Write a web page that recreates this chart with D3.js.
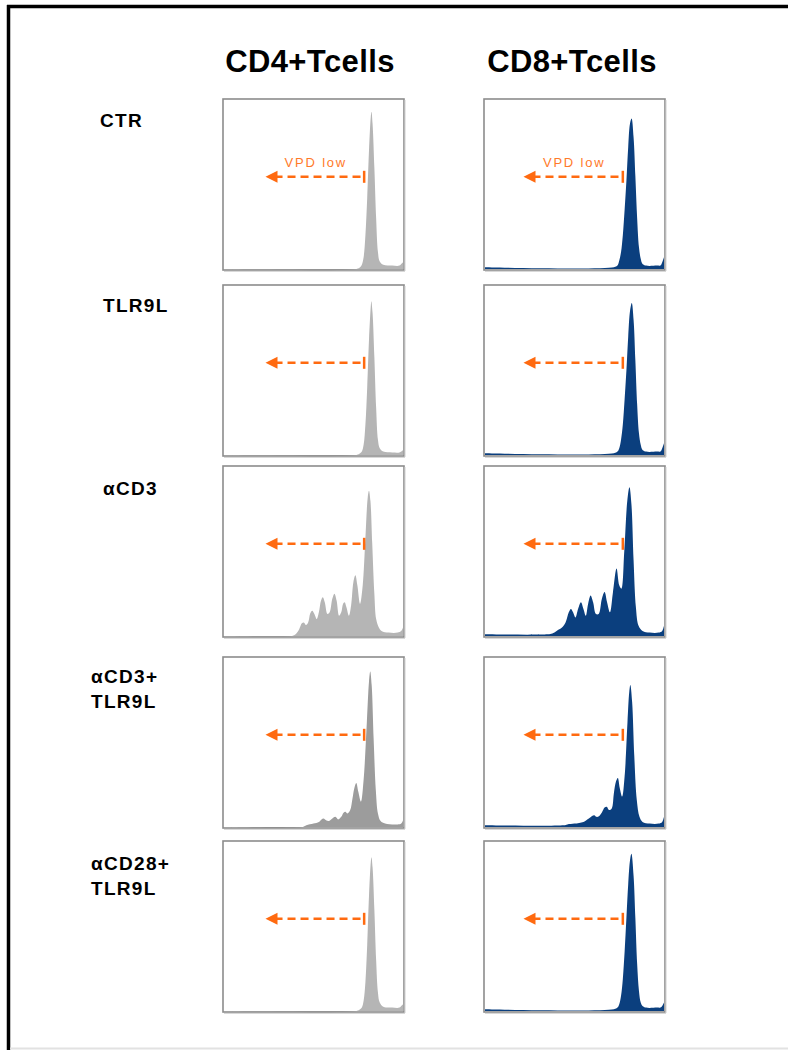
<!DOCTYPE html>
<html>
<head>
<meta charset="utf-8">
<script src="https://cdn.jsdelivr.net/npm/d3@7"></script>
<style>
  html, body { margin: 0; padding: 0; background: #ffffff; }
  svg { display: block; }
</style>
</head>
<body>
<svg id="chart" width="788" height="1050"></svg>
<script>
// ---------------- DATA ----------------
const columnTitles = ["CD4+Tcells", "CD8+Tcells"];
const rowLabels = [["CTR"], ["TLR9L"], ["\u03b1CD3"], ["\u03b1CD3+", "TLR9L"], ["\u03b1CD28+", "TLR9L"]];
const gateLabel = "VPD low";
const gateBoundary = [78.3, 77];     // VPD low gate edge (axis units, 0-100) per column
const gateArrowEnd = [23.2, 21.5];   // where the arrow points to (axis units)

// histograms: [fluorescence (0-100), relative count (0-1)]
const cd4Ctr = [[0,0],[74,0],[76,0.01],[77,0.025],[78,0.07],[79,0.2],[80,0.42],[81,0.7],[82,0.9],[82.4,0.93],[83,0.86],[84,0.6],[85,0.3],[86,0.1],[87,0.045],[89,0.025],[94,0.02],[98,0.02],[99,0.03],[100,0.04]];
const cd4Tlr9 = [[0,0],[74,0],[76,0.01],[77,0.02],[78,0.06],[79,0.18],[80,0.4],[81,0.68],[82,0.88],[82.3,0.91],[83,0.84],[84,0.58],[85,0.28],[86,0.09],[87,0.04],[89,0.02],[94,0.015],[98,0.015],[99,0.02],[100,0.03]];
const cd4Cd3 = [[0,0],[38,0],[40,0.01],[42,0.04],[43.5,0.075],[44.6,0.08],[45.8,0.065],[47,0.08],[48.2,0.135],[49.3,0.15],[50.5,0.13],[51.8,0.1],[53,0.14],[54.2,0.21],[55.2,0.23],[56.3,0.2],[57.8,0.13],[59,0.14],[60.5,0.22],[61.7,0.25],[62.9,0.21],[64.3,0.12],[65.5,0.14],[66.5,0.19],[67.4,0.2],[68.4,0.17],[69.8,0.12],[71,0.18],[72.3,0.32],[73.4,0.36],[74.5,0.3],[76,0.19],[77.5,0.3],[79,0.58],[80.3,0.82],[81,0.86],[81.8,0.8],[82.8,0.55],[84,0.25],[85,0.1],[86.5,0.05],[88,0.03],[92,0.02],[97,0.02],[99,0.03],[100,0.05]];
const cd4Cd3Tlr9 = [[0,0],[44,0],[46,0.01],[50,0.02],[53,0.03],[54.5,0.045],[55.6,0.05],[57,0.04],[58.5,0.035],[60.5,0.05],[62.2,0.06],[63.8,0.045],[65.5,0.06],[66.8,0.085],[67.8,0.09],[69,0.08],[70.5,0.1],[71.8,0.17],[72.8,0.23],[73.9,0.26],[75,0.21],[76.5,0.15],[78,0.28],[79.8,0.62],[81,0.86],[81.7,0.92],[82.5,0.84],[83.6,0.52],[84.8,0.22],[86,0.08],[87.5,0.035],[90,0.02],[97,0.015],[99,0.02],[100,0.04]];
const cd4Cd28Tlr9 = [[0,0],[74,0],[76,0.01],[77,0.02],[78,0.06],[79,0.17],[80,0.39],[81,0.68],[82,0.88],[82.4,0.91],[83,0.85],[84,0.6],[85,0.3],[86,0.11],[87,0.05],[89,0.025],[94,0.02],[98,0.02],[99,0.03],[100,0.04]];

const cd8Ctr = [[0,0.01],[72,0.01],[74,0.02],[75,0.05],[76,0.1],[77,0.2],[78,0.35],[79,0.52],[80,0.72],[81,0.86],[81.9,0.89],[83,0.78],[84,0.55],[85,0.3],[86,0.13],[87,0.06],[88,0.03],[90,0.02],[96,0.02],[98,0.02],[99,0.04],[100,0.07]];
const cd8Tlr9 = [[0,0.01],[72,0.01],[74,0.02],[75,0.04],[76,0.09],[77,0.18],[78,0.33],[79,0.5],[80,0.7],[81,0.85],[82,0.9],[83,0.8],[84,0.56],[85,0.3],[86,0.13],[87,0.06],[88,0.03],[90,0.02],[96,0.02],[98,0.02],[99,0.04],[100,0.07]];
const cd8Cd3 = [[0,0.01],[35,0.01],[37.6,0.015],[40,0.03],[43,0.05],[45,0.08],[46.8,0.14],[48,0.16],[49.2,0.14],[50.5,0.11],[52,0.16],[53.6,0.2],[55,0.16],[56.3,0.12],[57.6,0.19],[59,0.24],[60.4,0.2],[62,0.13],[63.5,0.13],[65.3,0.22],[66.8,0.26],[68.2,0.2],[69.8,0.14],[71.5,0.26],[73.5,0.4],[75,0.3],[76.2,0.28],[77.8,0.5],[79.5,0.8],[80.7,0.88],[81.8,0.78],[83,0.45],[84.3,0.17],[85.8,0.06],[88,0.03],[92,0.02],[97,0.02],[99,0.03],[100,0.06]];
const cd8Cd3Tlr9 = [[0,0.01],[44,0.01],[46,0.015],[50,0.02],[55,0.03],[58,0.05],[59.8,0.065],[61,0.07],[62.3,0.06],[63.8,0.065],[65.5,0.09],[66.8,0.115],[68,0.12],[69.3,0.1],[70.8,0.11],[72,0.2],[73.2,0.27],[74.2,0.29],[75.3,0.23],[76.6,0.18],[78,0.3],[79.6,0.62],[80.6,0.8],[81.2,0.84],[82.2,0.74],[83.4,0.42],[84.8,0.16],[86.3,0.06],[88,0.03],[92,0.02],[97,0.02],[99,0.03],[100,0.06]];
const cd8Cd28Tlr9 = [[0,0.01],[72,0.01],[74,0.02],[75,0.04],[76,0.09],[77,0.19],[78,0.35],[79,0.55],[80,0.75],[81,0.89],[81.8,0.93],[83,0.8],[84,0.55],[85,0.28],[86,0.12],[87,0.05],[88,0.03],[90,0.02],[96,0.02],[98,0.02],[99,0.03],[100,0.05]];

const histograms = [
  [cd4Ctr, cd8Ctr],
  [cd4Tlr9, cd8Tlr9],
  [cd4Cd3, cd8Cd3],
  [cd4Cd3Tlr9, cd8Cd3Tlr9],
  [cd4Cd28Tlr9, cd8Cd28Tlr9]
];
const fillColors = [
  ["#b5b5b5", "#0b3f7e"],
  ["#b5b5b5", "#0b3f7e"],
  ["#b5b5b5", "#0b3f7e"],
  ["#9c9c9c", "#0b3f7e"],
  ["#b5b5b5", "#0b3f7e"]
];

// ---------------- LAYOUT ----------------
const svg = d3.select("#chart");
const panelLeft = [223, 484];
const panelW = 181;
const panelTop = [99, 285, 466, 657, 841];
const panelH = 171;
const orange = "#ff6a10";

// page frame
svg.append("rect").attr("x", 0).attr("y", 0).attr("width", 788).attr("height", 1050).attr("fill", "#fff");
svg.append("line").attr("x1", 7).attr("x2", 788).attr("y1", 6.5).attr("y2", 6.5).attr("stroke", "#000").attr("stroke-width", 3.5);
svg.append("line").attr("x1", 8.5).attr("x2", 8.5).attr("y1", 5).attr("y2", 1050).attr("stroke", "#000").attr("stroke-width", 3.5);
svg.append("line").attr("x1", 10).attr("x2", 788).attr("y1", 1048.5).attr("y2", 1048.5).attr("stroke", "#e2e2e2").attr("stroke-width", 2);

// column titles
const titleX = [310, 572];
columnTitles.forEach((t, c) => {
  svg.append("text")
    .attr("x", titleX[c])
    .attr("y", 72)
    .attr("text-anchor", "middle")
    .attr("font-family", "Liberation Sans, Arial, sans-serif")
    .attr("font-weight", "bold")
    .attr("font-size", 31)
    .attr("letter-spacing", 0.4)
    .attr("fill", "#000")
    .text(t);
});

// row labels
const labelX = [100, 103, 103, 91, 91];
const labelY = [127, 312, 495, 683, 870];
rowLabels.forEach((lines, r) => {
  lines.forEach((ln, i) => {
    svg.append("text")
      .attr("x", labelX[r])
      .attr("y", labelY[r] + i * 25)
      .attr("font-family", "Liberation Sans, Arial, sans-serif")
      .attr("font-weight", "bold")
      .attr("font-size", 19)
      .attr("letter-spacing", 1.3)
      .attr("fill", "#000")
      .text(ln);
  });
});

// panels
const area = d3.area().curve(d3.curveCatmullRom.alpha(0.5));
histograms.forEach((rowData, r) => {
  rowData.forEach((data, c) => {
    const x0 = panelLeft[c], y0 = panelTop[r];
    const x = d3.scaleLinear().domain([0, 100]).range([x0 + 1, x0 + panelW - 1]);
    const y = d3.scaleLinear().domain([0, 1]).range([y0 + panelH - 1, y0 + 1]).clamp(true);
    const g = svg.append("g");

    g.append("rect").attr("x", x0).attr("y", y0).attr("width", panelW).attr("height", panelH)
      .attr("fill", "#fff");

    g.append("path")
      .datum(data)
      .attr("d", area.x(d => x(d[0])).y0(y(0)).y1(d => y(d[1])))
      .attr("fill", fillColors[r][c]);

    // frame
    g.append("rect").attr("x", x0).attr("y", y0).attr("width", panelW).attr("height", panelH)
      .attr("fill", "none").attr("stroke", "#8c8c8c").attr("stroke-width", 1.6);
    g.append("line").attr("x1", x0 + panelW + 1).attr("x2", x0 + panelW + 1)
      .attr("y1", y0 + 1).attr("y2", y0 + panelH + 1).attr("stroke", "#cfcfcf").attr("stroke-width", 1);
    g.append("line").attr("x1", x0 + 1).attr("x2", x0 + panelW + 1)
      .attr("y1", y0 + panelH + 1.5).attr("y2", y0 + panelH + 1.5).attr("stroke", "#d8d8d8").attr("stroke-width", 1);

    // gate arrow
    const ay = y0 + panelH * 0.455;
    const xs = x(gateBoundary[c]), xe = x(gateArrowEnd[c]);
    g.append("line").attr("x1", xe + 9).attr("x2", xs).attr("y1", ay).attr("y2", ay)
      .attr("stroke", orange).attr("stroke-width", 2.5).attr("stroke-dasharray", "8,5");
    g.append("path")
      .attr("d", `M${xe},${ay} L${xe + 12},${ay - 6} L${xe + 12},${ay + 6} Z`)
      .attr("fill", orange);
    g.append("line").attr("x1", xs).attr("x2", xs).attr("y1", ay - 6).attr("y2", ay + 6)
      .attr("stroke", orange).attr("stroke-width", 2.5);
    if (r === 0) {
      g.append("text")
        .attr("x", (xs + xe) / 2 + 1)
        .attr("y", ay - 10)
        .attr("text-anchor", "middle")
        .attr("font-family", "Liberation Sans, Arial, sans-serif")
        .attr("font-size", 13)
        .attr("letter-spacing", 1.8)
        .attr("fill", "#ff7a2a")
        .text(gateLabel);
    }
  });
});
</script>
</body>
</html>
